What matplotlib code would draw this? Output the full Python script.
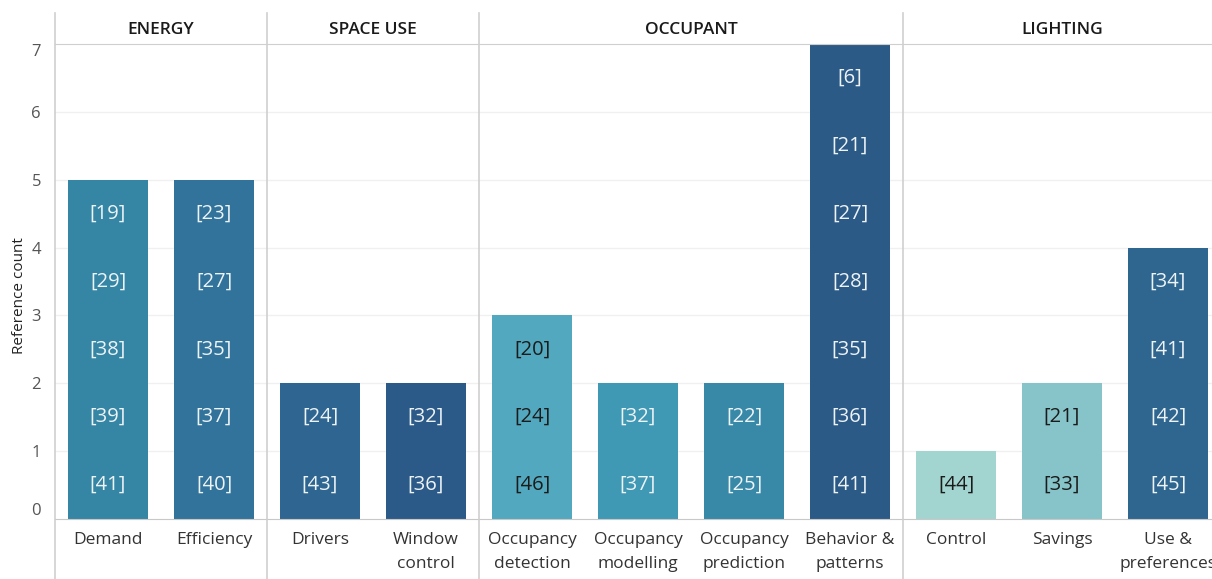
import matplotlib.pyplot as plt
from matplotlib import transforms

plt.rcParams['font.family'] = ['Open Sans', 'DejaVu Sans']

# data
groups = ["ENERGY", "SPACE USE", "OCCUPANT", "LIGHTING"]
group_sizes = [2, 2, 4, 3]
categories = ["Demand", "Efficiency", "Drivers", "Window\ncontrol",
              "Occupancy\ndetection", "Occupancy\nmodelling", "Occupancy\nprediction",
              "Behavior &\npatterns", "Control", "Savings", "Use &\npreferences"]
# reference ids per bar, bottom to top
refs = [
    ["[41]", "[39]", "[38]", "[29]", "[19]"],
    ["[40]", "[37]", "[35]", "[27]", "[23]"],
    ["[43]", "[24]"],
    ["[36]", "[32]"],
    ["[46]", "[24]", "[20]"],
    ["[37]", "[32]"],
    ["[25]", "[22]"],
    ["[41]", "[36]", "[35]", "[28]", "[27]", "[21]", "[6]"],
    ["[44]"],
    ["[33]", "[21]"],
    ["[45]", "[42]", "[41]", "[34]"],
]
colors = ["#3585a5", "#31739a", "#2e6691", "#2c5a88",
          "#52a8be", "#3f98b4", "#3888a8", "#2c5a87",
          "#a2d5d0", "#86c4ca", "#2e6690"]
dark_text = [False, False, False, False, True, False, False, False, True, True, False]

fig = plt.figure(figsize=(12.12, 5.79), dpi=100)
ax = fig.add_axes([55 / 1212, 60 / 579, 1166 / 1212, 475 / 579])

x = list(range(len(categories)))
counts = [len(r) for r in refs]
ax.bar(x, counts, width=0.755, color=colors, zorder=2)

for i, r in enumerate(refs):
    tc = "#1b1b1b" if dark_text[i] else "#eef3f6"
    for j, lab in enumerate(r):
        ax.text(i, j + 0.5, lab, ha="center", va="center", fontsize=14.5, color=tc, zorder=3)

ax.set_xlim(-0.5, len(categories) - 0.5)
ax.set_ylim(0, 7)
ax.set_yticks(range(0, 8))
ax.set_yticklabels([str(v) for v in range(0, 8)], fontsize=12, color="#555555")
ax.tick_params(axis="y", length=0, pad=10)
ax.get_yticklabels()[0].set_va("bottom")
ax.get_yticklabels()[-1].set_va("top")
ax.set_xticks(x)
ax.set_xticklabels(categories, fontsize=12.5, color="#333333", linespacing=1.75)
ax.tick_params(axis="x", length=0, pad=9)
ax.set_ylabel("Reference count", fontsize=11, color="#222222")
ax.yaxis.set_label_coords(-0.024, 0.47)

for v in range(1, 7):
    ax.axhline(v, color="#f0f0f0", lw=1, zorder=1)

ax.spines["right"].set_visible(False)
ax.spines["top"].set_color("#cfcfcf")
ax.spines["bottom"].set_color("#c8c8c8")
ax.spines["left"].set_visible(False)

# panel separators and headers
trans = transforms.blended_transform_factory(ax.transData, ax.transAxes)
start = 0
seps = [-0.5]
for g, n in zip(groups, group_sizes):
    center = start + (n - 1) / 2
    ax.text(center, 1.03, g, transform=trans, ha="center", va="center",
            fontsize=12.5, color="#1a1a1a", fontweight="semibold")
    start += n
    seps.append(start - 0.5)
for s in seps[:-1]:
    ax.axvline(s, ymin=-0.13, ymax=1.066, color="#cfcfcf", lw=1.2, clip_on=False, zorder=4)

fig.savefig("out.png", dpi=100)
